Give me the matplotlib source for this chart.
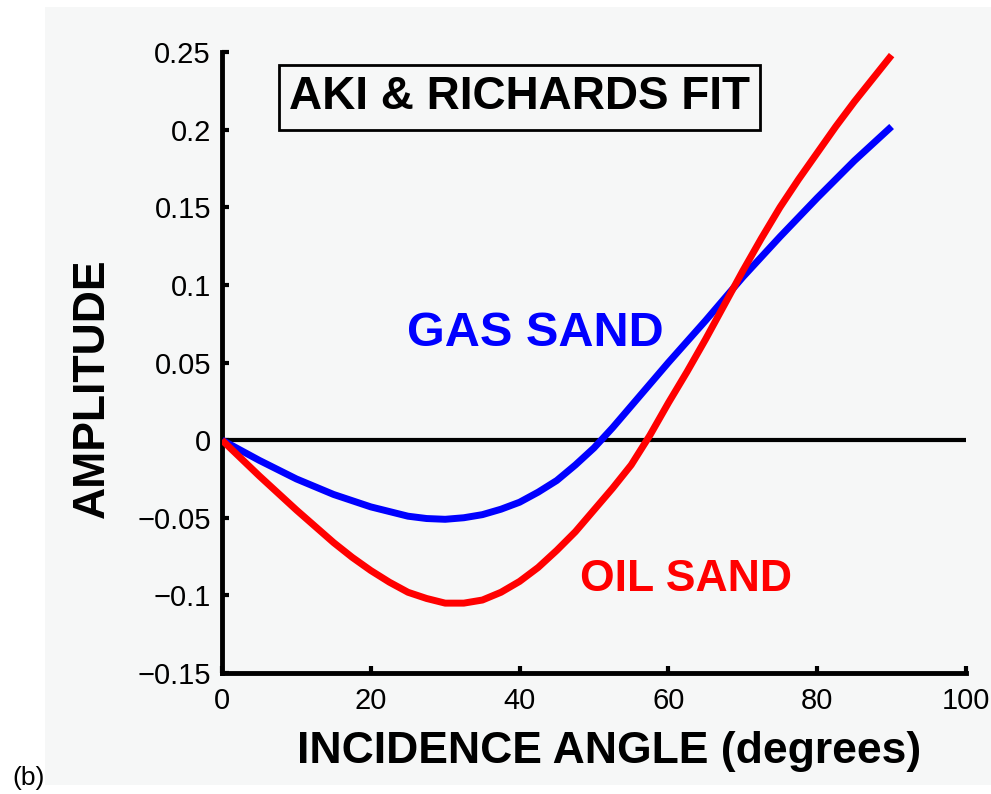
import numpy as np
import matplotlib.pyplot as plt
from matplotlib.patches import Rectangle

### data

angle = [0, 2.5, 5, 7.5, 10, 12.5, 15, 17.5, 20, 22.5, 25, 27.5, 30, 32.5, 35,
         37.5, 40, 42.5, 45, 47.5, 50, 52.5, 55, 57.5, 60, 62.5, 65, 67.5, 70,
         72.5, 75, 77.5, 80, 82.5, 85, 87.5, 90]
gas_sand = [0, -0.0065, -0.013, -0.019, -0.025, -0.030, -0.035, -0.039, -0.043,
            -0.046, -0.049, -0.0505, -0.051, -0.050, -0.048, -0.0445, -0.040,
            -0.0335, -0.026, -0.016, -0.005, 0.008, 0.022, 0.036, 0.050, 0.0635,
            0.077, 0.091, 0.105, 0.118, 0.131, 0.1435, 0.156, 0.168, 0.180,
            0.191, 0.202]
oil_sand = [0, -0.0115, -0.023, -0.034, -0.045, -0.0555, -0.066, -0.0755, -0.084,
            -0.0915, -0.098, -0.102, -0.105, -0.105, -0.103, -0.098, -0.091,
            -0.082, -0.071, -0.059, -0.045, -0.031, -0.016, 0.003, 0.024, 0.044,
            0.065, 0.087, 0.109, 0.130, 0.150, 0.168, 0.185, 0.202, 0.218,
            0.233, 0.248]

x_ticks = [0, 20, 40, 60, 80, 100]
y_ticks = [-0.15, -0.1, -0.05, 0, 0.05, 0.1, 0.15, 0.2, 0.25]
y_tick_labels = ['\u22120.15', '\u22120.1', '\u22120.05', '0', '0.05', '0.1', '0.15', '0.2', '0.25']

bg = '#f6f7f7'
plt.rcParams['font.family'] = ['Liberation Sans', 'DejaVu Sans']

W, H = 991, 794
fig = plt.figure(figsize=(W / 100, H / 100), dpi=100)
fig.patch.set_facecolor('white')
# grey panel behind the plot, leaving a white strip for the "(b)" label
fig.patches.append(Rectangle((45 / W, 9 / H), 1 - 45 / W, 1 - 16 / H,
                             transform=fig.transFigure, facecolor=bg,
                             edgecolor='none', zorder=-1))

ax = fig.add_axes([222 / W, (H - 673) / H, (966 - 222) / W, (673 - 52) / H])
ax.set_facecolor(bg)

ax.axhline(0, color='black', lw=3, zorder=1)
ax.plot(angle, gas_sand, color='#0000ff', lw=5, solid_capstyle='butt',
        solid_joinstyle='round', zorder=3)
ax.plot(angle, oil_sand, color='#ff0000', lw=5, solid_capstyle='butt',
        solid_joinstyle='round', zorder=3)

ax.set_xlim(0, 100)
ax.set_ylim(-0.15, 0.25)
ax.set_xticks(x_ticks)
ax.set_yticks(y_ticks)
ax.set_yticklabels(y_tick_labels)

for side in ['top', 'right']:
    ax.spines[side].set_visible(False)
for side in ['left', 'bottom']:
    ax.spines[side].set_linewidth(3.5)
ax.tick_params(direction='in', length=5, width=3, labelsize=21)
ax.tick_params(axis='y', pad=8)
ax.tick_params(axis='x', pad=10)

ax.set_xlabel('INCIDENCE ANGLE (degrees)', fontsize=32, fontweight='bold')
ax.xaxis.set_label_coords((609 - 222) / (966 - 222), -(752 - 673) / (673 - 52))
ax.set_ylabel('AMPLITUDE', fontsize=32, fontweight='bold')
ax.yaxis.set_label_coords(-(222 - 92) / (966 - 222), (673 - 388) / (673 - 52))
ax.xaxis.label.set_va('center')
ax.yaxis.label.set_va('center')

ax.text(40.0, 0.2207, 'AKI & RICHARDS FIT', fontsize=33, fontweight='bold',
        ha='center', va='center',
        bbox=dict(boxstyle='square,pad=0.22', facecolor='none',
                  edgecolor='black', linewidth=2))
ax.text(42.1, 0.069, 'GAS SAND', color='#0000ff', fontsize=35,
        fontweight='bold', ha='center', va='center')
ax.text(62.4, -0.090, 'OIL SAND', color='#ff0000', fontsize=32,
        fontweight='bold', ha='center', va='center')

fig.text(12 / W, (H - 790) / H, '(b)', fontsize=19, ha='left', va='bottom')

fig.savefig('out.png', dpi=100, facecolor=fig.get_facecolor())
